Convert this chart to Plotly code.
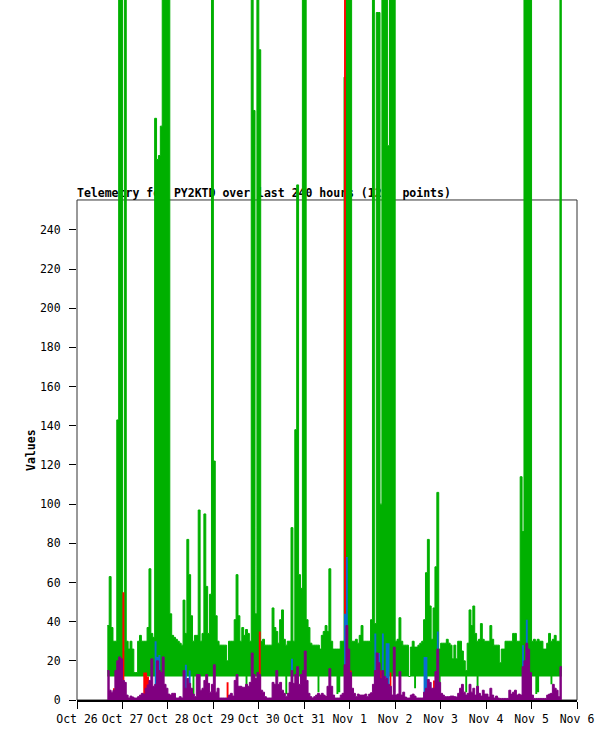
import pandas as pd
import plotly.graph_objects as go

start_time = "2024-10-26 16:00"
n_points = 241

# hourly values
green = [38, 63, 37, 30, 30, 143, 400, 400, 25, 400, 30, 26, 30, 26, 14, 14, 30, 33, 30, 30, 30, 37, 67, 34,
         32, 297, 276, 278, 293, 400, 400, 400, 400, 44, 33, 32, 31, 30, 29, 28, 51, 34, 82, 64, 43, 30, 33, 33,
         97, 30, 34, 95, 58, 34, 54, 400, 122, 43, 30, 28, 28, 28, 28, 20, 30, 30, 30, 41, 64, 43, 30, 37,
         33, 36, 34, 30, 400, 301, 44, 400, 332, 30, 31, 28, 28, 28, 28, 47, 37, 35, 29, 41, 46, 31, 28, 30,
         30, 88, 30, 138, 263, 64, 57, 400, 400, 41, 37, 29, 28, 28, 28, 28, 26, 33, 35, 38, 35, 67, 30, 26,
         26, 26, 26, 30, 30, 318, 400, 400, 400, 30, 30, 31, 29, 33, 38, 30, 30, 30, 30, 41, 400, 39, 351, 351,
         100, 400, 400, 400, 283, 400, 400, 400, 30, 31, 42, 30, 28, 28, 28, 12, 27, 30, 27, 27, 28, 29, 30, 41,
         65, 82, 48, 31, 47, 68, 106, 26, 29, 29, 29, 31, 29, 28, 21, 28, 21, 30, 30, 25, 20, 15, 29, 46,
         38, 48, 34, 30, 31, 39, 31, 30, 30, 30, 38, 31, 28, 28, 28, 19, 26, 26, 30, 30, 30, 30, 34, 34,
         30, 30, 114, 86, 400, 400, 400, 400, 30, 31, 30, 31, 30, 30, 26, 26, 29, 34, 30, 31, 33, 30, 30, 400,
         400]

green_low = [12, 12, 12, 12, 12, 12, 12, 12, 12, 12, 12, 12, 12, 12, 12, 12, 12, 12, 12, 12, 12, 12, 12, 12,
             12, 12, 12, 12, 12, 12, 12, 12, 12, 12, 12, 12, 12, 12, 12, 12, 12, 12, 12, 12, 12, 3, 12, 12,
             12, 12, 12, 12, 12, 12, 12, 12, 12, 12, 12, 12, 12, 12, 12, 12, 12, 12, 12, 12, 12, 12, 12, 12,
             12, 1, 12, 12, 12, 12, 12, 12, 12, 12, 12, 12, 12, 12, 12, 12, 12, 12, 12, 12, 12, 12, 3, 12,
             12, 12, 12, 12, 12, 12, 12, 12, 12, 12, 12, 12, 12, 12, 12, 4, 12, 12, 12, 12, 12, 12, 12, 12,
             12, 3, 4, 12, 12, 12, 12, 12, 12, 12, 12, 12, 12, 12, 12, 12, 12, 12, 12, 12, 12, 12, 12, 12,
             12, 12, 12, 12, 12, 12, 12, 4, 12, 12, 12, 12, 12, 12, 12, 12, 12, 12, 6, 12, 12, 12, 12, 12,
             4, 12, 12, 12, 12, 12, 12, 4, 12, 12, 12, 12, 12, 12, 12, 12, 12, 12, 12, 12, 12, 4, 12, 12,
             12, 12, 12, 6, 12, 12, 12, 12, 12, 12, 12, 12, 12, 12, 12, 12, 12, 12, 12, 12, 12, 12, 12, 12,
             12, 12, 12, 12, 12, 12, 12, 12, 12, 12, 3, 4, 12, 12, 12, 12, 12, 12, 8, 12, 12, 12, 12, 12,
             12]

red = [0, 0, 0, 6, 0, 0, 0, 0, 55, 0, 0, 0, 0, 0, 0, 0, 0, 0, 0, 14, 14, 12, 0, 0,
       0, 0, 0, 0, 12, 0, 0, 0, 0, 0, 0, 0, 0, 0, 0, 0, 0, 0, 0, 0, 0, 0, 0, 0,
       0, 0, 0, 0, 13, 0, 0, 0, 0, 0, 0, 0, 0, 0, 0, 9, 0, 0, 0, 0, 0, 0, 0, 0,
       0, 7, 0, 0, 0, 0, 0, 0, 35, 0, 0, 0, 0, 0, 0, 0, 0, 0, 0, 0, 0, 0, 0, 0,
       0, 0, 0, 0, 0, 0, 0, 0, 0, 0, 0, 0, 0, 0, 0, 0, 0, 0, 0, 2, 0, 0, 0, 0,
       0, 0, 0, 0, 0, 400, 0, 0, 15, 0, 0, 0, 0, 0, 0, 0, 0, 0, 0, 0, 0, 0, 0, 0,
       15, 0, 0, 0, 0, 14, 0, 0, 0, 0, 0, 0, 0, 0, 0, 0, 0, 0, 0, 0, 0, 0, 0, 0,
       0, 0, 0, 0, 10, 0, 0, 0, 0, 0, 0, 0, 0, 0, 0, 0, 0, 0, 0, 0, 0, 0, 0, 0,
       0, 0, 0, 0, 0, 0, 0, 0, 0, 0, 0, 0, 0, 0, 0, 0, 0, 0, 0, 0, 0, 0, 0, 0,
       0, 0, 0, 0, 0, 0, 0, 0, 0, 0, 0, 0, 0, 0, 0, 0, 0, 0, 0, 0, 0, 0, 0, 0,
       0]

blue = [0, 0, 0, 0, 0, 0, 0, 0, 10, 0, 0, 0, 0, 0, 0, 0, 0, 0, 0, 0, 0, 0, 0, 0,
        0, 30, 22, 23, 0, 0, 0, 0, 0, 0, 0, 0, 0, 0, 0, 0, 0, 18, 0, 15, 0, 0, 0, 0,
        0, 0, 0, 0, 0, 0, 0, 0, 0, 0, 0, 0, 0, 0, 0, 0, 0, 0, 0, 0, 0, 0, 0, 0,
        0, 0, 0, 0, 0, 0, 0, 0, 0, 0, 0, 0, 0, 0, 0, 0, 0, 0, 0, 0, 0, 0, 0, 0,
        0, 21, 0, 0, 0, 0, 0, 0, 0, 0, 0, 0, 0, 0, 0, 0, 0, 0, 0, 0, 0, 0, 0, 0,
        0, 0, 0, 0, 0, 44, 73, 0, 0, 0, 0, 0, 0, 0, 0, 0, 0, 0, 0, 0, 0, 34, 0, 24,
        0, 34, 0, 29, 29, 0, 0, 0, 0, 0, 0, 0, 0, 0, 0, 0, 0, 0, 0, 0, 0, 0, 0, 22,
        22, 0, 0, 0, 0, 0, 35, 0, 0, 0, 0, 0, 0, 0, 0, 0, 0, 0, 0, 0, 0, 0, 0, 0,
        0, 0, 0, 0, 0, 0, 0, 0, 0, 0, 0, 0, 0, 0, 0, 0, 0, 0, 0, 0, 0, 0, 0, 0,
        0, 0, 0, 28, 0, 41, 0, 0, 0, 0, 0, 0, 0, 0, 0, 0, 0, 0, 0, 0, 0, 0, 0, 0,
        0]

purple = [15, 5, 4, 5, 15, 20, 22, 21, 10, 9, 2.5, 1, 2, 1.5, 1, 1, 1.7, 2.5, 3.4, 3, 6, 7.7, 10, 21,
          7, 8, 20, 15, 14, 22, 8, 6, 3, 2.5, 3.4, 3.4, 1, 1, 1.7, 1, 15, 6, 11, 8.5, 6, 3, 1.7, 13,
          13, 5, 6, 10, 13, 8.5, 4, 8, 18, 4, 6, 1, 1, 1, 1, 1, 2.5, 3.4, 2, 10, 13, 7, 7, 6.5,
          6.5, 8, 7, 9, 24, 13, 11, 14, 13, 5, 4, 1.7, 1, 1, 1, 9, 8, 15, 8, 9, 5, 3.4, 1.7, 3.4,
          9, 15, 8.5, 13, 17, 8, 13, 15, 25, 10, 3.4, 1.7, 1, 1.7, 2.5, 3.4, 2.5, 3.4, 2.5, 1.7, 7, 16, 7, 2.5,
          1, 1, 1, 2.5, 3.4, 18, 38, 26, 14, 6, 3.4, 1.7, 3, 2.5, 2.5, 2.5, 3, 1.7, 3, 3.7, 8, 15, 24, 19,
          11, 15, 12, 11, 8, 7, 2.5, 27, 2.5, 3, 14.5, 2.5, 4, 1.5, 1, 1, 2.5, 3, 2, 1, 1, 1, 1, 4,
          6, 10.5, 9, 6, 6, 14.5, 26, 9, 3.4, 2.5, 1.7, 1.7, 1.7, 2, 2, 1.7, 1.5, 3.4, 6, 8, 4, 2.5, 3.4, 8,
          4, 6, 2.5, 7, 3.4, 2, 5, 3, 3, 1.5, 6, 2.5, 1, 2, 1, 0.8, 0.8, 0.8, 0.8, 0.8, 5, 3, 4, 5,
          2.5, 3, 2.5, 17, 20, 29, 26, 14, 2.5, 0.8, 0.8, 0.8, 0.8, 0.8, 0.8, 0.8, 2.5, 3, 3.4, 8, 6, 5, 1.7, 17,
          17]

y_ticks = [0, 20, 40, 60, 80, 100, 120, 140, 160, 180, 200, 220, 240]
x_start = "2024-10-26"
x_end = "2024-11-06"
frame_top = 255.3
title_text = "Telemetry for PY2KTD over last 240 hours (1209 points)"

times = pd.date_range(start_time, periods=n_points, freq="h")

MONO = "DejaVu Sans Mono"
fig = go.Figure()

# title as text drawn beneath the data (data overlaps it in the original)
fig.add_trace(go.Scatter(x=[pd.Timestamp(x_start)], y=[frame_top], mode="text",
                         text=["<b>" + title_text + "</b>"], textposition="top right",
                         textfont=dict(family=MONO, size=11.5, color="black"),
                         showlegend=False, hoverinfo="skip", cliponaxis=False))

fig.add_trace(go.Scatter(x=times, y=green_low, mode="lines", line=dict(width=0, shape="hv"),
                         showlegend=False, hoverinfo="skip"))
fig.add_trace(go.Scatter(x=times, y=green, mode="lines", fill="tonexty", fillcolor="#00b000",
                         line=dict(color="#00b000", width=1, shape="hv"), showlegend=False))
fig.add_trace(go.Scatter(x=times, y=red, mode="lines", fill="tozeroy", fillcolor="#ff0000",
                         line=dict(color="#ff0000", width=0, shape="hv"), showlegend=False))
fig.add_trace(go.Scatter(x=times, y=blue, mode="lines", fill="tozeroy", fillcolor="#0a6ed1",
                         line=dict(color="#0a6ed1", width=0, shape="hv"), showlegend=False))
fig.add_trace(go.Scatter(x=times, y=purple, mode="lines", fill="tozeroy", fillcolor="#800080",
                         line=dict(color="#800080", width=1, shape="hv"), showlegend=False))

fig.add_shape(type="rect", xref="paper", x0=0, x1=1, yref="y", y0=0, y1=frame_top,
              line=dict(color="#333333", width=1), layer="below")

fig.add_annotation(text="<b>Values</b>", xref="paper", x=-0.092, yref="y", y=frame_top / 2,
                   xanchor="center", yanchor="middle", textangle=-90, showarrow=False,
                   font=dict(family=MONO, size=11.5, color="black"))

fig.update_layout(
    width=615, height=741,
    margin=dict(l=77, r=38, t=0, b=41),
    paper_bgcolor="white", plot_bgcolor="white",
    showlegend=False,
    xaxis=dict(type="date", range=[x_start, x_end], dtick=86400000, tick0=x_start,
               tickformat="%b %-d", ticks="outside", ticklen=7, tickcolor="black",
               showgrid=False, zeroline=False, showline=True, linecolor="black", linewidth=2,
               tickfont=dict(family=MONO, size=11.5, color="black")),
    yaxis=dict(range=[0, 357.4], tickvals=y_ticks, ticks="outside", ticklen=7, tickcolor="black",
               ticklabelstandoff=6,
               showgrid=False, zeroline=False, showline=False,
               tickfont=dict(family=MONO, size=11.5, color="black")),
)

fig.write_html("out.html", config={"displayModeBar": False},
               post_script="document.body.style.margin='0';document.body.style.overflow='hidden';")
